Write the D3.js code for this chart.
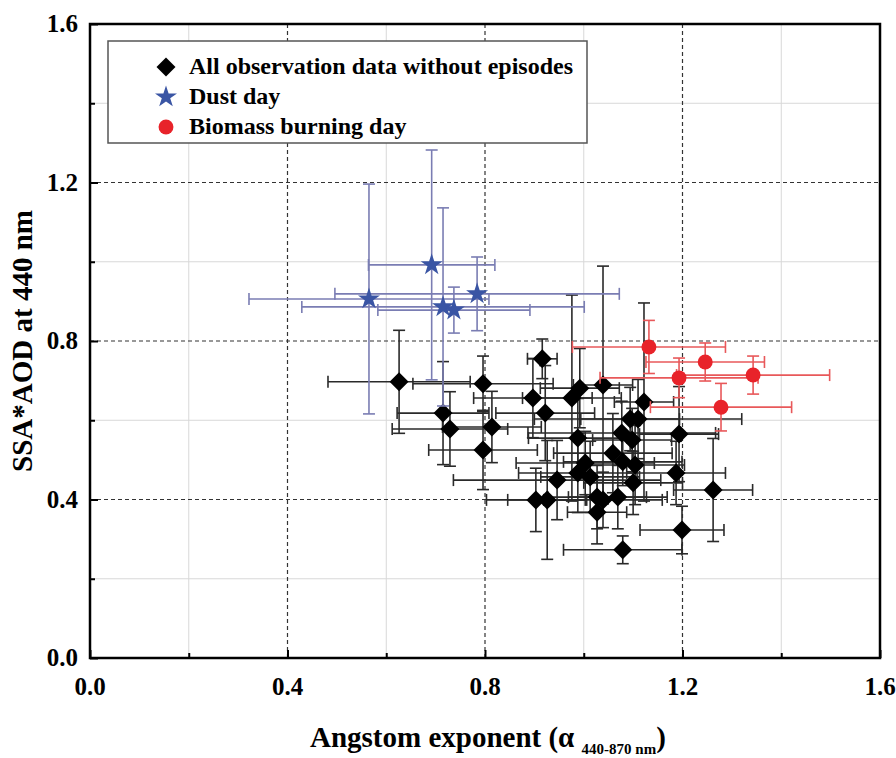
<!DOCTYPE html>
<html><head><meta charset="utf-8">
<script src="https://cdn.jsdelivr.net/npm/d3@7"></script>
<style>body{margin:0;background:#fff}</style>
</head><body>
<svg id="c" width="896" height="758"></svg>
<script>
// ---- data ----
const blackX  = [0.626,0.715,0.729,0.796,0.814,0.796,0.916,0.897,0.922,0.976,0.992,1.039,1.122,1.094,1.110,1.193,0.988,1.077,1.098,1.059,1.003,1.079,1.104,0.988,1.013,0.946,1.187,1.100,1.262,0.903,0.926,1.027,1.039,1.027,1.069,1.199,1.079];
const blackY  = [0.697,0.618,0.578,0.692,0.583,0.525,0.755,0.656,0.618,0.656,0.681,0.689,0.646,0.603,0.603,0.565,0.555,0.568,0.550,0.517,0.492,0.495,0.487,0.467,0.457,0.449,0.467,0.442,0.424,0.399,0.399,0.406,0.399,0.368,0.406,0.323,0.273];
const blackXErr = [0.144,0.093,0.117,0.142,0.10,0.11,0.03,0.12,0.10,0.10,0.08,0.06,0.06,0.10,0.21,0.08,0.10,0.19,0.08,0.12,0.14,0.12,0.10,0.12,0.10,0.21,0.10,0.10,0.08,0.10,0.08,0.10,0.12,0.06,0.10,0.085,0.12];
const blackYErr = [0.13,0.13,0.094,0.07,0.09,0.10,0.05,0.10,0.12,0.26,0.10,0.30,0.25,0.08,0.10,0.12,0.10,0.08,0.08,0.10,0.08,0.06,0.10,0.10,0.09,0.10,0.08,0.08,0.13,0.08,0.15,0.08,0.07,0.08,0.08,0.06,0.035];

const dustX    = [0.692,0.565,0.715,0.737,0.784];
const dustY    = [0.992,0.906,0.886,0.878,0.919];
const dustXErr = [0.128,0.243,0.286,0.154,0.288];
const dustYErr = [0.29,0.29,0.25,0.058,0.093];

const bbX    = [1.132,1.246,1.193,1.343,1.278];
const bbY    = [0.785,0.747,0.707,0.714,0.633];
const bbXErr = [0.155,0.12,0.16,0.155,0.143];
const bbYErr = [0.067,0.048,0.05,0.048,0.06];

const majorTicks = [0.0,0.4,0.8,1.2,1.6];
const minorTicks = [0.2,0.6,1.0,1.4];
const legendLabels = ["All observation data without episodes","Dust day","Biomass burning day"];

// ---- layout ----
const svg = d3.select("#c");
const L = 90, T = 24, R = 880, B = 658;
const x = d3.scaleLinear().domain([0,1.6]).range([L,R]);
const y = d3.scaleLinear().domain([0,1.6]).range([B,T]);
const serif = "'Liberation Serif','Times New Roman',serif";

// grid
const g = svg.append("g");
minorTicks.forEach(v=>{
  g.append("line").attr("x1",x(v)).attr("x2",x(v)).attr("y1",T).attr("y2",B).attr("stroke","#d8d8d8").attr("stroke-width",1);
  g.append("line").attr("y1",y(v)).attr("y2",y(v)).attr("x1",L).attr("x2",R).attr("stroke","#d8d8d8").attr("stroke-width",1);
});
majorTicks.slice(1,4).forEach(v=>{
  g.append("line").attr("x1",x(v)).attr("x2",x(v)).attr("y1",T).attr("y2",B).attr("stroke","#333").attr("stroke-width",1.2).attr("stroke-dasharray","4,3");
  g.append("line").attr("y1",y(v)).attr("y2",y(v)).attr("x1",L).attr("x2",R).attr("stroke","#333").attr("stroke-width",1.2).attr("stroke-dasharray","4,3");
});

// axes with inward ticks
const axB = d3.axisBottom(x).tickValues(majorTicks).tickSize(-8).tickFormat("");
const axL = d3.axisLeft(y).tickValues(majorTicks).tickSize(-8).tickFormat("");
const axBm = d3.axisBottom(x).tickValues(minorTicks).tickSize(-5).tickFormat("");
const axLm = d3.axisLeft(y).tickValues(minorTicks).tickSize(-5).tickFormat("");
[[axB,`translate(0,${B})`],[axBm,`translate(0,${B})`],[axL,`translate(${L},0)`],[axLm,`translate(${L},0)`]].forEach(([a,t])=>{
  const gg = svg.append("g").attr("transform",t).call(a);
  gg.select(".domain").remove();
  gg.selectAll("line").attr("stroke","#000").attr("stroke-width",2);
});
svg.append("rect").attr("x",L).attr("y",T).attr("width",R-L).attr("height",B-T)
  .attr("fill","none").attr("stroke","#000").attr("stroke-width",2.5);

// tick labels
majorTicks.forEach(v=>{
  svg.append("text").attr("x",x(v)).attr("y",B+37).attr("text-anchor","middle")
    .attr("font-family",serif).attr("font-weight","bold").attr("font-size",25).text(v.toFixed(1));
  svg.append("text").attr("x",L-12).attr("y",y(v)+8).attr("text-anchor","end")
    .attr("font-family",serif).attr("font-weight","bold").attr("font-size",25).text(v.toFixed(1));
});

// axis titles
svg.append("text").attr("transform",`translate(32,${(T+B)/2}) rotate(-90)`).attr("text-anchor","middle")
  .attr("font-family",serif).attr("font-weight","bold").attr("font-size",29).text("SSA*AOD at 440 nm");
const xt = svg.append("text").attr("x",310).attr("y",747).attr("text-anchor","start")
  .attr("font-family",serif).attr("font-weight","bold").attr("font-size",29);
xt.append("tspan").text("Angstom exponent (α ");
xt.append("tspan").attr("font-size",15).attr("dy",7).text("440-870 nm");
xt.append("tspan").attr("dy",-7).text(")");

// error bars helper
function errBars(xs, ys, xe, ye, color, w){
  const eg = svg.append("g").attr("stroke",color).attr("stroke-width",w).attr("fill","none");
  const cap = 6;
  xs.forEach((xv,i)=>{
    const yv = ys[i];
    const x0 = x(xv - xe[i]), x1 = x(xv + xe[i]), yy = y(yv);
    const y0 = y(yv - ye[i]), y1 = y(yv + ye[i]), xx = x(xv);
    eg.append("line").attr("x1",x0).attr("x2",x1).attr("y1",yy).attr("y2",yy);
    eg.append("line").attr("x1",x0).attr("x2",x0).attr("y1",yy-cap).attr("y2",yy+cap);
    eg.append("line").attr("x1",x1).attr("x2",x1).attr("y1",yy-cap).attr("y2",yy+cap);
    eg.append("line").attr("x1",xx).attr("x2",xx).attr("y1",y0).attr("y2",y1);
    eg.append("line").attr("x1",xx-cap).attr("x2",xx+cap).attr("y1",y0).attr("y2",y0);
    eg.append("line").attr("x1",xx-cap).attr("x2",xx+cap).attr("y1",y1).attr("y2",y1);
  });
}

const diamond = d3.symbol().type(d3.symbolDiamond2).size(230);
const star = d3.symbol().type(d3.symbolStar).size(150);
const circ = d3.symbol().type(d3.symbolCircle).size(175);

// black
errBars(blackX, blackY, blackXErr, blackYErr, "#2a2a2a", 1.6);
svg.append("g").selectAll("path").data(blackX).join("path")
  .attr("transform",(d,i)=>`translate(${x(d)},${y(blackY[i])})`).attr("d",diamond).attr("fill","#000");

// dust
errBars(dustX, dustY, dustXErr, dustYErr, "#7a7db3", 1.6);
svg.append("g").selectAll("path").data(dustX).join("path")
  .attr("transform",(d,i)=>`translate(${x(d)},${y(dustY[i])})`).attr("d",star).attr("fill","#3a55a4");

// biomass
errBars(bbX, bbY, bbXErr, bbYErr, "#e8585a", 1.6);
svg.append("g").selectAll("path").data(bbX).join("path")
  .attr("transform",(d,i)=>`translate(${x(d)},${y(bbY[i])})`).attr("d",circ).attr("fill","#e8232a");

// legend
const lg = svg.append("g");
lg.append("rect").attr("x",108).attr("y",41).attr("width",479).attr("height",102)
  .attr("fill","#fff").attr("stroke","#555").attr("stroke-width",1.5);
const syms = [[diamond,"#000"],[star,"#3a55a4"],[circ,"#e8232a"]];
legendLabels.forEach((t,i)=>{
  const yy = 67 + i*30;
  lg.append("path").attr("transform",`translate(166,${yy})`).attr("d",syms[i][0]).attr("fill",syms[i][1]);
  lg.append("text").attr("x",189).attr("y",yy+7).attr("font-family",serif).attr("font-weight","bold")
    .attr("font-size",24).text(t);
});
</script>
</body></html>
